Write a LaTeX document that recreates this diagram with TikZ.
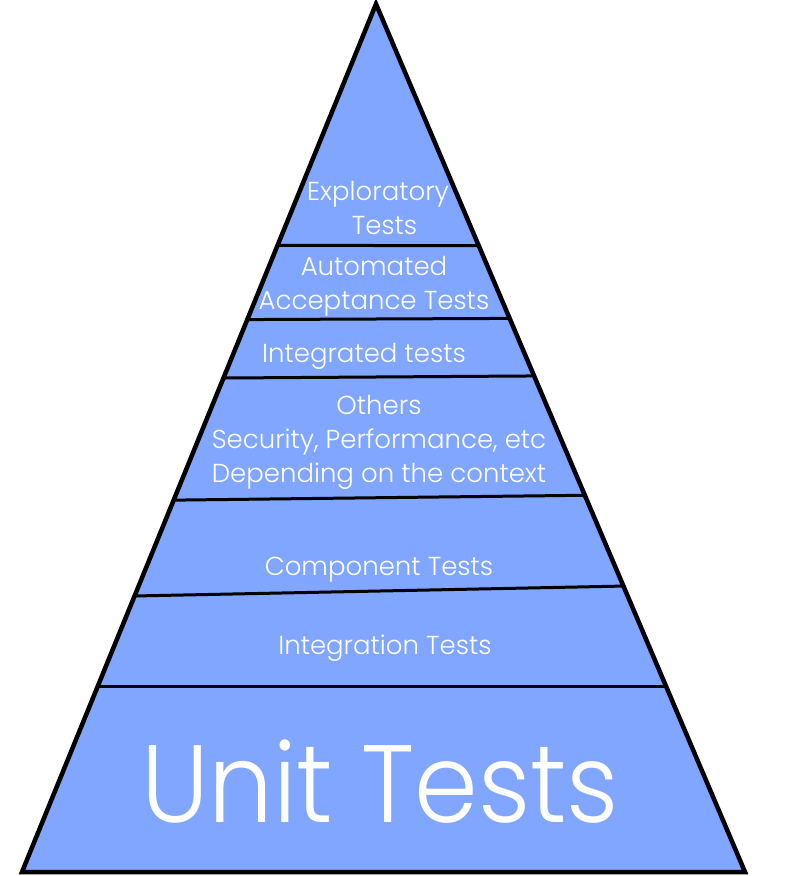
\documentclass[tikz,border=0pt]{standalone}
\usepackage{fontspec}
\IfFontExistsTF{Poppins Light}{\setmainfont{Poppins Light}}{\setmainfont{Poppins}}
\begin{document}
\begin{tikzpicture}[x=1pt,y=-1pt,
  outline/.style={line width=4.5pt,line join=miter},
  divider/.style={line width=3pt},
  label/.style={text=white,align=center,inner sep=0pt,
    font=\fontsize{26}{34}\selectfont},
  biglabel/.style={text=white,inner sep=0pt,xscale=0.93,
    font=\fontsize{110}{110}\selectfont}]
\definecolor{layerblue}{RGB}{128,166,255}
\useasboundingbox (0,0) rectangle (789,876);
\coordinate (apex) at (376,4);
\coordinate (bl) at (22,872);
\coordinate (br) at (745,872);
\fill[layerblue] (apex) -- (br) -- (bl) -- cycle;
% layer boundaries, clipped to the pyramid
\begin{scope}
  \clip (apex) -- (br) -- (bl) -- cycle;
  \draw[divider] (150,245) -- (600,246);
  \draw[divider] (150,320) -- (600,318);
  \draw[divider] (150,378.5) -- (600,375.5);
  \draw[divider] (100,501) -- (650,494.5);
  \draw[divider] (60,597.5) -- (700,584.5);
  \draw[divider] (40,686) -- (740,686);
\end{scope}
\draw[outline] (apex) -- (br) -- (bl) -- cycle;
% layer labels
\node[label] (explo) at (378,208) {Exploratory\\\hspace*{0.5em}Tests};
\node[label] (accept) at (374,286) {Automated\\Acceptance Tests};
\node[label] (integrated) at (364,356) {Integrated tests};
\node[label] (others) at (379,442) {Others\\Security, Performance, etc\\Depending on the context};
\node[label] (component) at (379,570) {Component Tests};
\node[label] (integration) at (385,648) {Integration Tests};
\node[biglabel] (unit) at (380,782) {Unit Tests};
\end{tikzpicture}
\end{document}
